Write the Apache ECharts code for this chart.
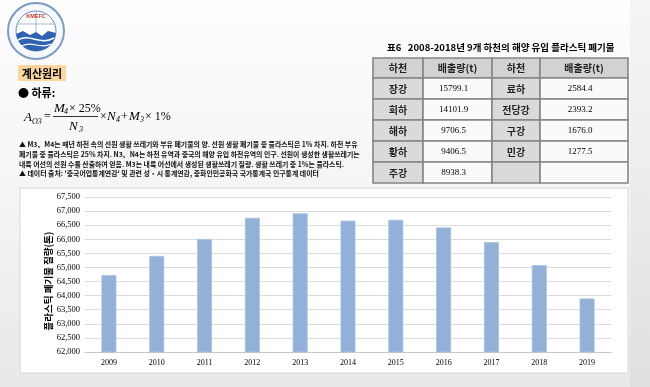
<!DOCTYPE html>
<html><head><meta charset="utf-8">
<script src="https://cdn.jsdelivr.net/npm/echarts@6/dist/echarts.min.js"></script>
<style>html,body{margin:0;padding:0;background:#f0f0f0}#c{width:650px;height:387px}</style>
</head><body><div id="c"></div>
<script>
// ---- data ----
const years = ['2009','2010','2011','2012','2013','2014','2015','2016','2017','2018','2019'];
const plasticMass = [64730, 65410, 66010, 66760, 66920, 66660, 66690, 66420, 65900, 65080, 63900];
const yMin = 62000, yMax = 67500, yStep = 500;
const yAxisTitle = '플라스틱 폐기물 질량(톤)';

const tableTitle = '표6   2008-2018년 9개 하천의 해양 유입 플라스틱 폐기물';
const tableHeader = ['하천', '배출량(t)', '하천', '배출량(t)'];
const riversA = ['장강', '회하', '해하', '황하', '주강'];
const emissionsA = ['15799.1', '14101.9', '9706.5', '9406.5', '8938.3'];
const riversB = ['료하', '전당강', '구강', '민강', ''];
const emissionsB = ['2584.4', '2393.2', '1676.0', '1277.5', ''];

const sectionLabel = '계산원리';
const bulletLabel = '● 하류:';
const noteLines = [
  '▲ M3、M4는 매년 하천 속의 선원 생활 쓰레기와 부유 폐기물의 양. 선원 생활 폐기물 중 플라스틱은 1% 차지. 하천 부유',
  '폐기물 중 플라스틱은 25% 차지. N3、N4는 하천 유역과 중국의 해양 유입 하천유역의 인구. 선원이 생성한 생활쓰레기는',
  '내륙 어선의 선원 수를 산출하여 얻음. M3는 내륙 어선에서 생성된 생활쓰레기 질량. 생활 쓰레기 중 1%는 플라스틱.',
  '▲ 데이터 출처: \'중국어업통계연감\' 및 관련 성・시 통계연감, 중화인민공화국 국가통계국 인구통계 데이터'
];

// ---- layout / drawing ----
const KR = '"Noto Sans CJK KR", "Noto Sans", sans-serif';
const SERIF = '"Liberation Serif", "DejaVu Serif", serif';
const G = [];
function txt(x, y, text, o) {
  o = o || {};
  G.push({type: 'text', x: x, y: y, z: o.z || 10, rotation: o.rot || 0,
    style: {text: text, fill: o.color || '#000', fontSize: o.size || 10, fontWeight: o.weight || 'normal',
      fontStyle: o.style || 'normal', fontFamily: o.family || KR, align: o.align || 'left', verticalAlign: 'middle'}});
}
// background
G.push({type: 'rect', z: -100, shape: {x: 0, y: 0, width: 650, height: 387},
  style: {fill: new echarts.graphic.LinearGradient(0, 0, 0, 1, [{offset: 0, color: '#fdfdfd'}, {offset: 0.45, color: '#f6f6f6'}, {offset: 1, color: '#e8e8e8'}])}});
G.push({type: 'rect', z: -99, shape: {x: 630, y: 0, width: 20, height: 387}, style: {fill: 'rgba(0,0,0,0.035)'}});
// chart white box
G.push({type: 'rect', z: -90, shape: {x: 20, y: 188, width: 608, height: 185}, style: {fill: '#ffffff', stroke: '#d6d6d6', lineWidth: 1}});

// logo
G.push({type: 'circle', z: 5, shape: {cx: 36, cy: 31, r: 28}, style: {fill: '#f5f8fc', stroke: '#7f9cc0', lineWidth: 2}});
G.push({type: 'circle', z: 6, shape: {cx: 36, cy: 31, r: 20}, style: {fill: '#ffffff', stroke: '#6b8fbd', lineWidth: 1}});
const wavePts = [];
for (let a = 5; a <= 175; a += 10) {
  const r = a * Math.PI / 180;
  wavePts.push([36 + 20 * Math.cos(r), 31 + 20 * Math.sin(r)]);
}
wavePts.push([16, 34], [23, 31], [30, 35], [36, 32], [42, 36], [48, 31], [56, 33]);
G.push({type: 'polygon', z: 7, shape: {points: wavePts}, style: {fill: '#2f62b0'}});
G.push({type: 'bezierCurve', z: 8, shape: {x1: 18, y1: 40, x2: 54, y2: 38, cpx1: 30, cpy1: 33, cpx2: 40, cpy2: 46}, style: {fill: 'none', stroke: '#ffffff', lineWidth: 1.5}});
G.push({type: 'bezierCurve', z: 8, shape: {x1: 22, y1: 46, x2: 51, y2: 44, cpx1: 32, cpy1: 40, cpx2: 40, cpy2: 50}, style: {fill: 'none', stroke: '#ffffff', lineWidth: 1.2}});
G.push({type: 'line', z: 8, shape: {x1: 36, y1: 12, x2: 36, y2: 32}, style: {stroke: '#8fa8c8', lineWidth: 0.8}});
G.push({type: 'line', z: 8, shape: {x1: 17, y1: 24, x2: 55, y2: 24}, style: {stroke: '#8fa8c8', lineWidth: 0.8}});
txt(36, 16, 'KMEFC', {size: 5.5, weight: 'bold', color: '#c0392b', align: 'center', family: 'Liberation Sans', z: 9});

// section label
G.push({type: 'rect', z: 5, shape: {x: 18, y: 65, width: 48, height: 16}, style: {fill: '#fcd6a0'}});
txt(42, 73.5, sectionLabel, {size: 11, weight: 'bold', align: 'center'});
txt(18, 93, bulletLabel, {size: 11, weight: 'bold'});

// formula
const FI = {family: SERIF, style: 'italic', size: 13};
txt(24, 118, 'A', FI);
txt(32, 122, 'O3', {family: SERIF, style: 'italic', size: 8});
txt(44, 117, '=', {family: SERIF, size: 12});
txt(54, 109, 'M', FI);
txt(64, 112, '4', {family: SERIF, style: 'italic', size: 8});
txt(69, 109, '× 25%', {family: SERIF, size: 12});
G.push({type: 'line', z: 10, shape: {x1: 53, y1: 116.5, x2: 98, y2: 116.5}, style: {stroke: '#000', lineWidth: 0.8}});
txt(69, 127, 'N', FI);
txt(79, 130, '3', {family: SERIF, style: 'italic', size: 8});
txt(100, 117, '×', {family: SERIF, size: 12});
txt(107, 117, 'N', FI);
txt(116, 120, '4', {family: SERIF, style: 'italic', size: 8});
txt(121, 117, '+', {family: SERIF, size: 12});
txt(129, 117, 'M', FI);
txt(140, 120, '3', {family: SERIF, style: 'italic', size: 8});
txt(145, 117, '× 1%', {family: SERIF, size: 12});

// notes
const noteY = [144, 154, 164, 173.5];
noteLines.forEach((t, i) => txt(19, noteY[i], t, {size: 6.9, weight: 'bold', color: '#111'}));

// table
txt(387, 47, tableTitle, {size: 9.5, weight: 'bold'});
const colX = [373, 423, 492, 540, 628];
const rowY = [58, 78, 99, 120, 141, 162, 183];
const rows = [tableHeader];
riversA.forEach((r, i) => rows.push([r, emissionsA[i], riversB[i], emissionsB[i]]));
rows.forEach((row, ri) => {
  row.forEach((cell, ci) => {
    const x = colX[ci], w = colX[ci + 1] - colX[ci], y = rowY[ri], h = rowY[ri + 1] - rowY[ri];
    const grey = ri === 0 || ci % 2 === 0;
    G.push({type: 'rect', z: 5, shape: {x: x, y: y, width: w, height: h},
      style: {fill: ri === 0 ? '#d2d2d2' : (grey ? '#dadada' : '#fafafa'), stroke: '#858585', lineWidth: 1.6}});
    if (cell) {
      const isNum = ri > 0 && ci % 2 === 1;
      txt(x + w / 2 - (isNum ? 4 : 0), y + h / 2 + 0.5, cell, isNum ? {size: 9, family: SERIF, align: 'center'} : {size: 10, weight: 'bold', align: 'center', color: '#222'});
    }
  });
});

// y axis title
txt(48, 281, yAxisTitle, {size: 9.5, weight: 'bold', rot: Math.PI / 2, align: 'center'});

const chart = echarts.init(document.getElementById('c'), null, {renderer: 'canvas'});
chart.setOption({
  animation: false,
  graphic: {elements: G},
  grid: {left: 85, right: 39, top: 197, bottom: 35},
  xAxis: {type: 'category', data: years,
    axisLine: {lineStyle: {color: '#c8c8c8'}}, axisTick: {show: false},
    axisLabel: {color: '#000', fontFamily: SERIF, fontSize: 8, margin: 7}},
  yAxis: {type: 'value', min: yMin, max: yMax, interval: yStep,
    axisLine: {show: false}, axisTick: {show: false},
    splitLine: {lineStyle: {color: '#dcdcdc'}},
    axisLabel: {color: '#000', fontFamily: SERIF, fontSize: 8.5, margin: 5,
      formatter: v => v.toLocaleString('en-US')}},
  series: [{type: 'bar', data: plasticMass, barWidth: 15,
    itemStyle: {color: '#93b1d7', borderColor: '#a9c2e2', borderWidth: 0.8}}]
});
</script></body></html>
